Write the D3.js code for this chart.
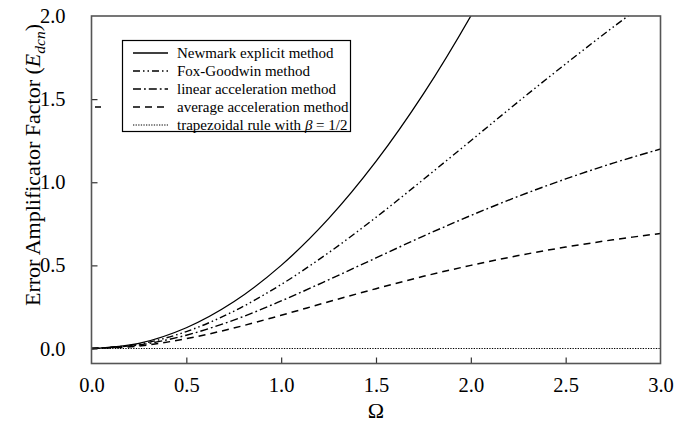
<!DOCTYPE html>
<html><head><meta charset="utf-8">
<script src="https://cdn.jsdelivr.net/npm/d3@7/dist/d3.min.js"></script>
<style>body{margin:0;background:#fff}svg{display:block}</style>
</head><body><svg id="c" width="676" height="433"></svg>
<script>
// Data
const omega = [0, 0.25, 0.5, 0.75, 1.0, 1.25, 1.5, 1.75, 2.0, 2.25, 2.5, 2.75, 3.0];
const newmarkExplicit = [0, 0.031, 0.125, 0.281, 0.5, 0.781, 1.125, 1.531, 2.0, 2.53, 3.125, 3.78, 4.5];
const foxGoodwin = [0, 0.026, 0.102, 0.224, 0.385, 0.576, 0.789, 1.017, 1.25, 1.484, 1.712, 1.933, 2.143];
const linearAccel = [0, 0.021, 0.08, 0.171, 0.286, 0.413, 0.545, 0.676, 0.8, 0.915, 1.02, 1.115, 1.2];
const averageAccel = [0, 0.015, 0.059, 0.123, 0.2, 0.281, 0.36, 0.434, 0.5, 0.559, 0.61, 0.654, 0.692];
const trapezoidal = [0, 0, 0, 0, 0, 0, 0, 0, 0, 0, 0, 0, 0];
const seriesNames = ["Newmark explicit method", "Fox-Goodwin method", "linear acceleration method", "average acceleration method", "trapezoidal rule with β = 1/2"];
const xTicks = [0, 0.5, 1.0, 1.5, 2.0, 2.5, 3.0];
const yTicks = [0, 0.5, 1.0, 1.5, 2.0];

const FONT = "'Liberation Serif', 'Times New Roman', serif";
const svg = d3.select("#c");
const L = 91.5, R = 660.5, T = 16, B = 363.5;
const x = d3.scaleLinear().domain([0, 3]).range([L, R]);
const y = d3.scaleLinear().domain([-0.0902, 2.0]).range([B, T]);

const styles = [
  {data: newmarkExplicit, dash: null, w: 1.3},
  {data: foxGoodwin, dash: "7,3,1.5,3,1.5,3", w: 1.4},
  {data: linearAccel, dash: "8,3,1.8,3", w: 1.4},
  {data: averageAccel, dash: "7,5", w: 1.5},
  {data: trapezoidal, dash: "1.3,1.3", w: 1}
];

svg.append("clipPath").attr("id", "pc").append("rect")
  .attr("x", L).attr("y", T).attr("width", R - L).attr("height", B - T);

const line = d3.line().x(d => x(d[0])).y(d => y(d[1])).curve(d3.curveCatmullRom);
const g = svg.append("g").attr("clip-path", "url(#pc)");
styles.forEach(s => {
  g.append("path").datum(omega.map((o, i) => [o, s.data[i]]))
    .attr("d", line).attr("fill", "none").attr("stroke", "#000")
    .attr("stroke-width", s.w).attr("stroke-dasharray", s.dash);
});

// axes (inner ticks)
const xAxis = d3.axisBottom(x).tickValues(xTicks).tickSize(-6).tickPadding(14).tickFormat(d3.format(".1f"));
const yAxis = d3.axisLeft(y).tickValues(yTicks).tickSize(-6).tickPadding(26).tickFormat(d3.format(".1f"));
const gx = svg.append("g").attr("transform", `translate(0,${B})`).call(xAxis);
const gy = svg.append("g").attr("transform", `translate(${L},0)`).call(yAxis);
[gx, gy].forEach(a => {
  a.select(".domain").remove();
  a.selectAll("line").attr("stroke", "#333").attr("stroke-width", 1.2);
  a.selectAll("text").attr("font-size", 20.5).style("font-family", FONT).attr("fill", "#000");
});
gx.selectAll(".tick").filter(d => d === 0 || d === 3).select("line").remove();
gy.selectAll(".tick").filter(d => d === 2).select("line").remove();
gx.selectAll("text").attr("dy", "0.71em");

// frame
svg.append("rect").attr("x", L).attr("y", T).attr("width", R - L).attr("height", B - T)
  .attr("fill", "none").attr("stroke", "#555").attr("stroke-width", 1.6);

// small stray mark near 1.5 tick in the original
svg.append("line").attr("x1", 95).attr("x2", 101).attr("y1", 107).attr("y2", 107)
  .attr("stroke", "#000").attr("stroke-width", 1.5);

// axis titles
svg.append("text").attr("x", (L + R) / 2).attr("y", 418).attr("text-anchor", "middle")
  .style("font-family", FONT).attr("font-size", 22).text("Ω");
const yl = svg.append("text").attr("transform", "translate(40,165) rotate(-90)")
  .attr("text-anchor", "middle").style("font-family", FONT).attr("font-size", 22);
yl.append("tspan").text("Error Amplificator Factor (");
yl.append("tspan").attr("font-style", "italic").text("E");
yl.append("tspan").attr("font-style", "italic").attr("font-size", 15.5).attr("dy", 5).text("dcn");
yl.append("tspan").attr("dy", -5).text(")");

// legend
const lg = svg.append("g");
lg.append("rect").attr("x", 122.5).attr("y", 40.5).attr("width", 228).attr("height", 91)
  .attr("fill", "#fff").attr("stroke", "#000").attr("stroke-width", 1.2);
seriesNames.forEach((n, i) => {
  const cy = 53 + i * 18;
  lg.append("line").attr("x1", 133).attr("x2", 168).attr("y1", cy).attr("y2", cy)
    .attr("stroke", "#000").attr("stroke-width", styles[i].w).attr("stroke-dasharray", styles[i].dash);
  const t = lg.append("text").attr("x", 177).attr("y", cy + 5).attr("font-size", 15).style("font-family", FONT);
  if (i === 4) {
    t.append("tspan").text("trapezoidal rule with ");
    t.append("tspan").attr("font-style", "italic").text("β");
    t.append("tspan").text(" = 1/2");
  } else t.text(n);
});
</script></body></html>
